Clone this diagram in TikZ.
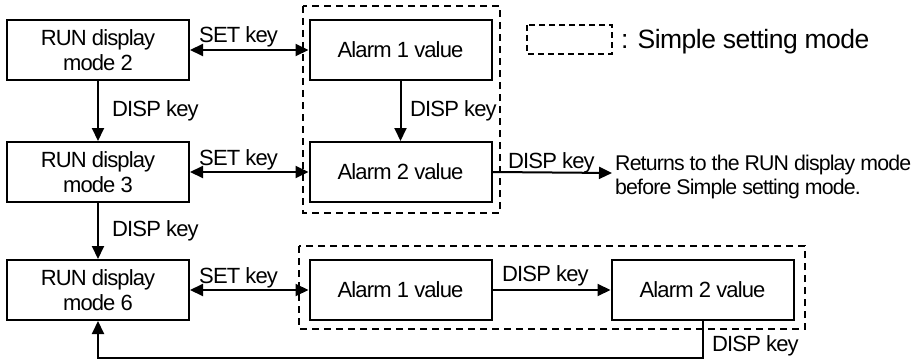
\documentclass[tikz,border=0pt]{standalone}
\usepackage{fontspec}
\setmainfont{Liberation Sans}[LetterSpace=-4]
\newfontfamily\legfont{Liberation Sans}[LetterSpace=-2]
\usetikzlibrary{arrows.meta}
\begin{document}
\begin{tikzpicture}[x=1pt,y=-1pt,
  box/.style={draw,line width=2pt,minimum width=182pt,minimum height=60pt,inner sep=0pt,align=center,font=\fontsize{22}{25}\selectfont},
  lab/.style={inner sep=0pt,font=\fontsize{22}{24}\selectfont},
  conn/.style={line width=2pt,-{Triangle[length=13pt,width=12pt]}},
  bconn/.style={line width=2pt,{Triangle[length=13pt,width=12pt]}-{Triangle[length=13pt,width=12pt]}},
  dbox/.style={draw,line width=1.5pt,dash pattern=on 7pt off 5pt}]
\useasboundingbox (0,0) rectangle (924,361);
% dashed groups
\draw[dbox] (303,6) rectangle (500,213);
\draw[dbox] (299,246) rectangle (805,329);
\draw[draw,line width=1.2pt,dash pattern=on 6pt off 4pt] (527,25) rectangle (612,54);
\node[lab,anchor=base west,font=\legfont\fontsize{26.5}{30}\selectfont] (leg) at (621,49) {: Simple setting mode};
% boxes
\node[box] (r2) at (98,50) {RUN display\\mode 2};
\node[box] (r3) at (98,172) {RUN display\\mode 3};
\node[box] (r6) at (98,290) {RUN display\\mode 6};
\node[box] (a1) at (400.5,50) {Alarm 1 value};
\node[box] (a2) at (400.5,172) {Alarm 2 value};
\node[box] (b1) at (400.5,290) {Alarm 1 value};
\node[box] (b2) at (702.5,290) {Alarm 2 value};
\node[lab,anchor=west,align=left,font=\fontsize{21.3}{24}\selectfont] (ret) at (615,177) {Returns to the RUN display mode\\before Simple setting mode.};
% connectors
\draw[bconn] (r2) -- (a1);
\draw[bconn] (r3) -- (a2);
\draw[bconn] (r6) -- (b1);
\draw[conn] (r2) -- (r3);
\draw[conn] (r3) -- (r6);
\draw[conn] (a1) -- (a2);
\draw[conn] (a2.east) -- (612,173) coordinate (retin);
\draw[conn] (b1) -- (b2);
\draw[conn] (b2.south) -- ++(0,37) -| (r6.south);
% labels
\node[lab,anchor=base west] (l1) at (199,43) {SET key};
\node[lab,anchor=base west] (l2) at (199,165) {SET key};
\node[lab,anchor=base west] (l3) at (199,283) {SET key};
\node[lab,anchor=base west] (l4) at (112,117) {DISP key};
\node[lab,anchor=base west] (l5) at (410,117) {DISP key};
\node[lab,anchor=base west] (l6) at (112,236) {DISP key};
\node[lab,anchor=base west] (l7) at (508,168) {DISP key};
\node[lab,anchor=base west] (l8) at (502,281) {DISP key};
\node[lab,anchor=base west] (l9) at (712,351) {DISP key};
\end{tikzpicture}
\end{document}
